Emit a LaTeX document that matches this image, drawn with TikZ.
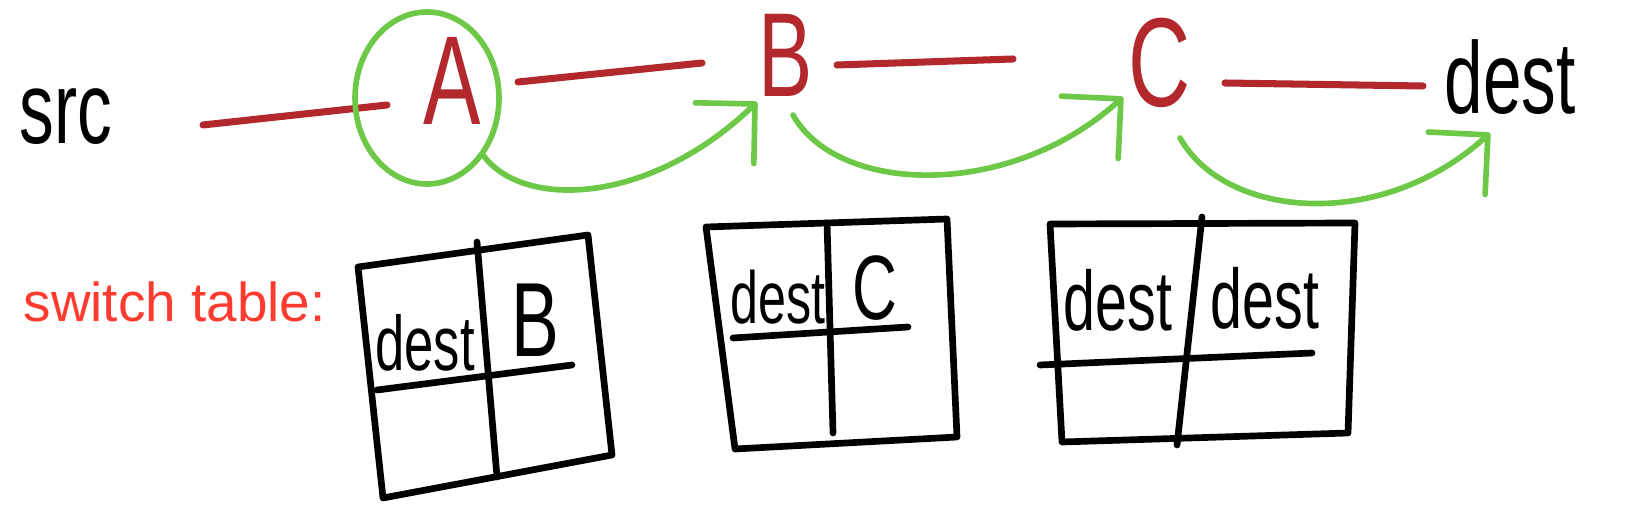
\documentclass[tikz,border=0pt]{standalone}
\usepackage{fontspec}
\newfontfamily\handfont[FakeStretch=0.68]{Liberation Sans}
\newfontfamily\notefont{Liberation Sans}
\usetikzlibrary{arrows.meta}
\definecolor{wirered}{RGB}{178,40,45}
\definecolor{hopgreen}{RGB}{108,200,70}
\definecolor{notered}{RGB}{255,59,48}

\begin{document}
\begin{tikzpicture}[x=0.01cm, y=-0.01cm,
    hand/.style={font=\handfont\fontsize{#1}{#1}\selectfont, inner sep=0pt},
    wire/.style={draw=wirered, line width=2pt, line cap=round},
    hop/.style={draw=hopgreen, line width=1.6pt, line cap=round,
        -{Straight Barb[length=12pt, width=24pt, round]}},
    grid/.style={draw=black, line width=1.9pt, line cap=round, line join=round}]
    \useasboundingbox (0,0) rectangle (1640,516);

    % hosts and switches
    \node[hand=29] (src) at (66,117) {src};
    \node[hand=36, text=wirered] (A) at (452,81) {A};
    \node[hand=34, text=wirered] (B) at (786,55) {B};
    \node[hand=36, text=wirered] (C) at (1160,63) {C};
    \node[hand=29] (dest) at (1510,77) {dest};

    % links
    \draw[wire] ([shift={(137,8)}]src.center) -- ([shift={(-65,24)}]A.center);
    \draw[wire] ([shift={(66,1)}]A.center) -- ([shift={(-84,8)}]B.center);
    \draw[wire] ([shift={(51,10)}]B.center) -- ([shift={(-147,-4)}]C.center);
    \draw[wire] ([shift={(65,20)}]C.center) -- ([shift={(-87,9)}]dest.center);

    % forwarding path
    \draw[hopgreen, line width=1.6pt] ([shift={(-25,17)}]A.center) ellipse [x radius=72, y radius=86];
    \draw[hop] ([shift={(31,74)}]A.center) .. controls +(40,55) and +(-107,103) .. ([shift={(-29,47)}]B.center);
    \draw[hop] ([shift={(7,60)}]B.center) .. controls +(45,80) and +(-113,103) .. ([shift={(-37,34)}]C.center);
    \draw[hop] ([shift={(20,75)}]C.center) .. controls +(45,80) and +(-110,100) .. ([shift={(-20,56)}]dest.center);

    % switch tables
    \node[font=\notefont\fontsize{15.6}{15.6}\selectfont, text=notered, anchor=base west, inner sep=0pt] (tablelabel) at (23,322) {switch table:};

    \begin{scope}[shift={(358,267)}]
        \draw[grid] (0,0) -- (230,-32) -- (254,188) -- (25,231) -- cycle;
        \draw[grid] (119,-25) -- (139,210);
        \draw[grid] (19,123) -- (214,98);
        \node[hand=22] (destA) at (67,76) {dest};
        \node[hand=30] (hopA) at (177,53) {B};
    \end{scope}

    \begin{scope}[shift={(706,227)}]
        \draw[grid] (0,0) -- (241,-8) -- (251,210) -- (29,222) -- cycle;
        \draw[grid] (121,-4) -- (127,206);
        \draw[grid] (27,111) -- (202,100);
        \node[hand=21] (destB) at (72,70) {dest};
        \node[hand=26] (hopB) at (169,61) {C};
    \end{scope}

    \begin{scope}[shift={(1050,224)}]
        \draw[grid] (0,0) -- (305,-1) -- (298,209) -- (12,218) -- cycle;
        \draw[grid] (152,-7) -- (127,221);
        \draw[grid] (-10,141) -- (262,129);
        \node[hand=24] (destC) at (68,76) {dest};
        \node[hand=24] (hopC) at (215,74) {dest};
    \end{scope}
\end{tikzpicture}
\end{document}
